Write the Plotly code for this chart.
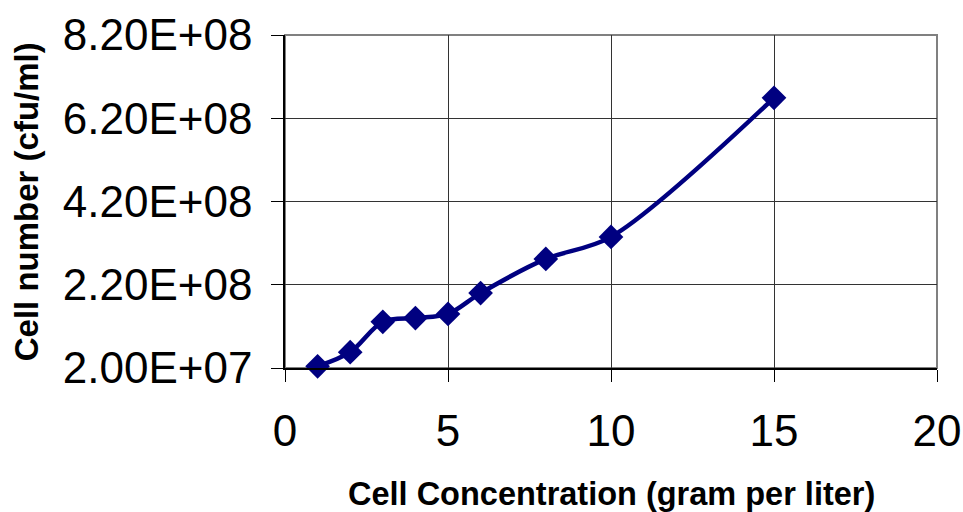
import plotly.graph_objects as go

# Data
concentration = [1, 2, 3, 4, 5, 6, 8, 10, 15]          # gram per liter
cell_number = [2.4e7, 5.8e7, 1.31e8, 1.40e8, 1.50e8, 2.00e8, 2.82e8, 3.35e8, 6.69e8]  # cfu/ml

y_tickvals = [2.0e7, 2.2e8, 4.2e8, 6.2e8, 8.2e8]
y_ticktext = ["2.00E+07", "2.20E+08", "4.20E+08", "6.20E+08", "8.20E+08"]
x_tickvals = [0, 5, 10, 15, 20]

FONT = "Arial, 'Liberation Sans', sans-serif"
NAVY = "#000080"

fig = go.Figure()
fig.add_trace(go.Scatter(
    x=concentration, y=cell_number,
    mode="lines+markers",
    line=dict(color=NAVY, width=4.5, shape="spline", smoothing=0.9),
    marker=dict(symbol="diamond", size=19, color=NAVY),
    showlegend=False,
    cliponaxis=False,
))

fig.update_layout(
    width=963, height=512,
    margin=dict(l=285, r=26, t=35, b=144, autoexpand=False),
    paper_bgcolor="white", plot_bgcolor="white",
    font=dict(family=FONT, color="black"),
    shapes=[dict(type="rect", xref="x domain", yref="y domain",
                 x0=0, x1=1, y0=0, y1=1,
                 line=dict(color="#808080", width=2), layer="below")],
    annotations=[
        dict(text="<b>Cell Concentration (gram per liter)</b>",
             xref="paper", yref="paper", x=0.5, y=-0.378,
             xanchor="center", yanchor="middle", showarrow=False,
             font=dict(size=32.5, family=FONT, color="black")),
        dict(text="<b>Cell number (cfu/ml)</b>",
             xref="paper", yref="paper", x=-0.396, y=0.5,
             xanchor="center", yanchor="middle", showarrow=False,
             textangle=-90,
             font=dict(size=33, family=FONT, color="black")),
    ],
)

fig.update_xaxes(
    range=[0, 20], tickvals=x_tickvals, automargin=False,
    showgrid=True, gridcolor="#333333", gridwidth=1,
    showline=True, linecolor="black", linewidth=1.5,
    ticks="outside", ticklen=12, tickcolor="black", tickwidth=1,
    tickfont=dict(size=44, family=FONT, color="black"),
    ticklabelstandoff=11,
    zeroline=False,
)
fig.update_yaxes(
    range=[2.0e7, 8.2e8], tickvals=y_tickvals, ticktext=y_ticktext, automargin=False,
    showgrid=True, gridcolor="#333333", gridwidth=1,
    showline=True, linecolor="black", linewidth=1.5,
    ticks="outside", ticklen=12, tickcolor="black", tickwidth=1,
    tickfont=dict(size=44, family=FONT, color="black"),
    ticklabelstandoff=10,
    zeroline=False,
)

fig.write_html(
    "out.html",
    config={"displayModeBar": False},
    post_script="document.body.style.margin='0px';document.body.style.overflow='hidden';",
)
